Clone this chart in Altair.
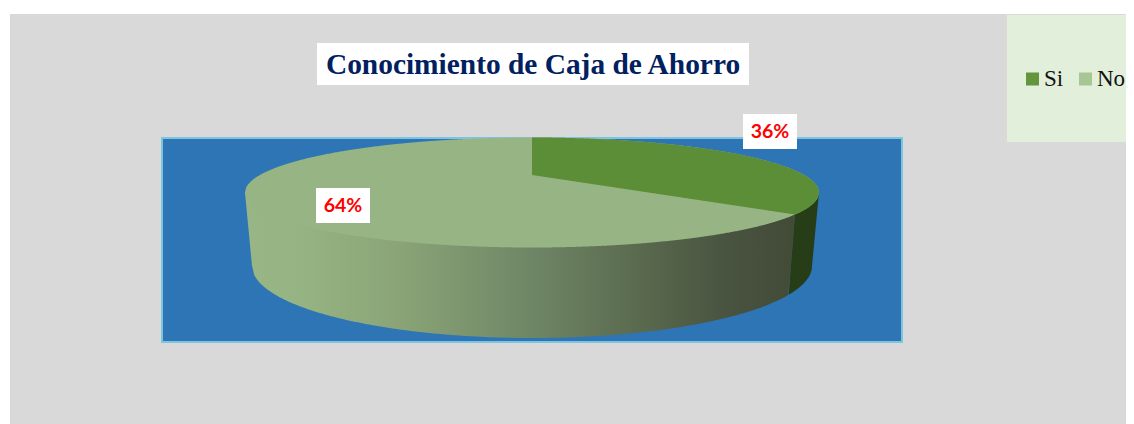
import math
import numpy as np
import pandas as pd
import altair as alt

# values
categories = ["Si", "No"]
shares = [36, 64]
chart_title = "Conocimiento de Caja de Ahorro"

# layout of the drawing, in page pixels
PAGE_R, PAGE_B = 1126, 424
CX, RX_TOP, TOP_Y0, TOP_Y1, APEX_Y = 532.0, 287.0, 137.5, 247.5, 175.0
CY_TOP = (TOP_Y0 + TOP_Y1) / 2
RY_TOP = (TOP_Y1 - TOP_Y0) / 2
RX_BOT, CY_BOT, RY_BOT = 280.0, 266.0, 72.0

xs = alt.Scale(domain=[8, PAGE_R], range=[0, PAGE_R - 8], nice=False, zero=False)
ys = alt.Scale(domain=[8, PAGE_B], range=[0, PAGE_B - 8], nice=False, zero=False)
X = lambda f: alt.X(f, type="quantitative", scale=xs, axis=None)
Y = lambda f: alt.Y(f, type="quantitative", scale=ys, axis=None)


def top_half(x):
    return RY_TOP * np.sqrt(np.clip(1 - ((x - CX) / RX_TOP) ** 2, 0, 1))


def bottom_edge(x):
    """Lower outline of the pie's side wall, including its slanted ends."""
    u = np.abs(x - CX)
    arc = CY_BOT + RY_BOT * np.sqrt(np.clip(1 - (u / RX_BOT) ** 2, 0, 1))
    side = CY_TOP + (CY_BOT - CY_TOP) * (RX_TOP - u) / (RX_TOP - RX_BOT)
    return np.where(u <= RX_BOT, arc, side)


def project(share):
    """Perspective projection of the slice boundary on the pie's top face."""
    t = 2 * math.pi * share / 100
    c = (2 * APEX_Y - TOP_Y0 - TOP_Y1) / (TOP_Y1 - TOP_Y0)
    a = TOP_Y1 * (1 + c) - APEX_Y
    v = -math.cos(t)
    den = 1 + c * v
    d = RX_TOP * math.sqrt(1 - c * c)
    return CX + d * math.sin(t) / den, (a * v + APEX_Y) / den


edge_x, edge_y = project(shares[0])
edge_bx = CX + (edge_x - CX) * RX_BOT / RX_TOP
edge_by = float(bottom_edge(np.array([edge_bx]))[0])


def grid(a, b, n=240):
    return np.linspace(a, b, n)


# side wall of the "No" slice (its upper part stays hidden behind the top face)
xa = grid(CX - RX_TOP, edge_x)
low = bottom_edge(xa)
m = xa > edge_bx
low[m] = edge_by + (edge_y - edge_by) * (xa[m] - edge_bx) / (edge_x - edge_bx)
wall_no = pd.DataFrame({"x": xa, "y": np.full_like(xa, CY_TOP), "y2": low})

# side wall of the "Si" slice
xb = grid(edge_bx, CX + RX_TOP, 120)
up = np.full_like(xb, CY_TOP)
m = xb < edge_x
up[m] = edge_by + (edge_y - edge_by) * (xb[m] - edge_bx) / (edge_x - edge_bx)
wall_si = pd.DataFrame({"x": xb, "y": up, "y2": bottom_edge(xb)})

# top faces
xc = grid(CX - RX_TOP, CX + RX_TOP, 500)
face_no = pd.DataFrame({"x": xc, "y": CY_TOP - top_half(xc), "y2": CY_TOP + top_half(xc),
                        "serie": categories[1]})
xd = grid(CX, CX + RX_TOP, 300)
lower = CY_TOP + top_half(xd)
m = xd < edge_x
lower[m] = APEX_Y + (edge_y - APEX_Y) * (xd[m] - CX) / (edge_x - CX)
face_si = pd.DataFrame({"x": xd, "y": CY_TOP - top_half(xd), "y2": lower, "serie": categories[0]})


def box(x, x2, y, y2, fill, **kw):
    d = pd.DataFrame({"x": [x], "x2": [x2], "y": [y], "y2": [y2]})
    return alt.Chart(d).mark_rect(color=fill, **kw).encode(
        x=X("x"), x2=alt.X2("x2"), y=Y("y"), y2=alt.Y2("y2"))


def label(text, x, y, size, color, font, bold=True):
    d = pd.DataFrame({"x": [x], "y": [y], "t": [text]})
    return alt.Chart(d).mark_text(fontSize=size, color=color, font=font,
                                  fontWeight="bold" if bold else "normal",
                                  align="center", baseline="middle").encode(
        x=X("x"), y=Y("y"), text="t:N")


def area(df):
    return alt.Chart(df).encode(x=X("x"), y=Y("y"), y2=alt.Y2("y2"))


stops = [(245, "#98B685"), (290, "#97B584"), (400, "#8AA477"), (532, "#6F8666"),
         (640, "#5A6A4E"), (730, "#485340"), (797, "#434B36")]
wall_fill = alt.Gradient(
    gradient="linear", x1=0, x2=1, y1=0, y2=0,
    stops=[alt.GradientStop(offset=(p - stops[0][0]) / (stops[-1][0] - stops[0][0]), color=c)
           for p, c in stops],
)

legend_df = pd.DataFrame({"serie": categories, "x": [CX, CX], "y": [APEX_Y, APEX_Y]})
legend_layer = alt.Chart(legend_df).mark_square(size=1).encode(
    x=X("x"), y=Y("y"),
    color=alt.Color("serie:N", sort=categories,
                    scale=alt.Scale(domain=categories, range=["#63963C", "#A8C693"]),
                    legend=alt.Legend(
                        title=None, orient="none", direction="horizontal",
                        legendX=1013, legendY=59, padding=0, symbolType="square",
                        symbolSize=169, symbolStrokeWidth=0, symbolOpacity=1,
                        labelFont="Liberation Serif", labelFontSize=23,
                        labelColor="#111111", labelOffset=0, columnPadding=10,
                        clipHeight=24)),
)

face_scale = alt.Scale(domain=categories, range=["#5B8E37", "#97B584"])

layers = [
    box(10, PAGE_R, 14, PAGE_B, "#D9D9D9"),
    legend_layer,
    box(10, PAGE_R, 14, PAGE_B, "#D9D9D9"),
    box(1007, PAGE_R, 15, 142, "#E2EFDA"),
    box(317, 749, 43, 85, "#FFFFFF"),
    label(chart_title, 533, 65, 29.4, "#002060", "Liberation Serif"),
    box(162, 902, 138, 342, "#2E75B6", stroke="#7FC4DE", strokeWidth=2),
    area(wall_no).mark_area(color=wall_fill),
    area(wall_si).mark_area(color="#273D17"),
    area(face_no).mark_area().encode(
        color=alt.Color("serie:N", scale=face_scale, legend=None)),
    area(face_si).mark_area().encode(
        color=alt.Color("serie:N", scale=face_scale, legend=None)),
    box(743, 797, 114, 149, "#FFFFFF"),
    label(f"{shares[0]}%", 770, 132, 19.5, "#FF0000", "Lato"),
    box(316, 370, 188, 223, "#FFFFFF"),
    label(f"{shares[1]}%", 343, 206, 19.5, "#FF0000", "Lato"),
]

chart = (
    alt.layer(*layers)
    .resolve_scale(color="independent")
    .properties(width=PAGE_R - 8, height=PAGE_B - 8, padding=0, background="#FFFFFF",
                autosize=alt.AutoSizeParams(type="none"))
    .configure_view(stroke=None)
)
chart.save("out.html", embed_options={"renderer": "svg", "actions": False})
